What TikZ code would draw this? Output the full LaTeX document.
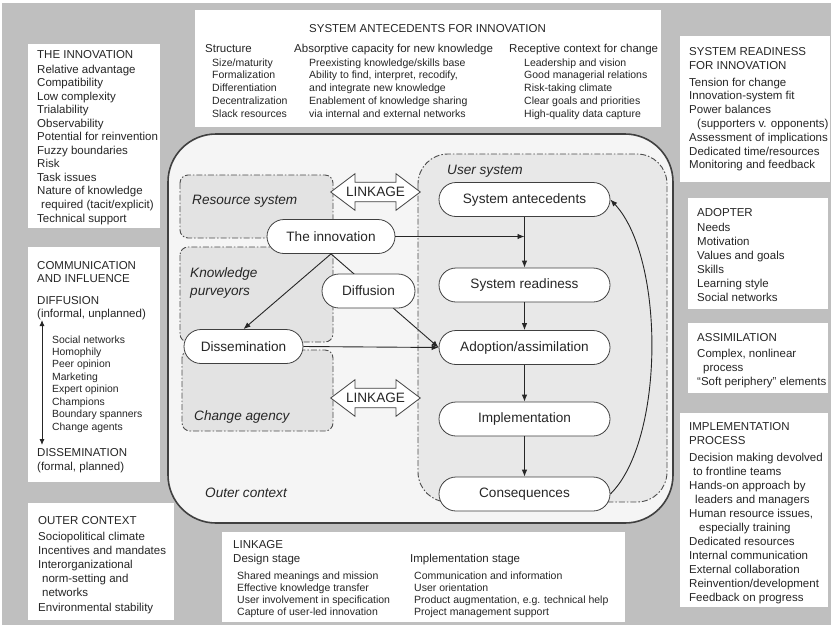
\documentclass[tikz,border=0pt]{standalone}
\usepackage{fontspec}
\setmainfont{Liberation Sans}
\usetikzlibrary{arrows.meta,shapes.misc,shapes.arrows}

\tikzset{
  panel/.style={fill=white},
  lbl/.style={anchor=base west, inner sep=0pt, text=black!85, font=\fontsize{11.5}{13}\selectfont},
  sublbl/.style={lbl, font=\fontsize{10.5}{12}\selectfont},
  zone/.style={draw=black!70, line width=0.9pt, dash pattern=on 6pt off 2pt on 1.5pt off 2pt, rounded corners=8pt},
  zonename/.style={anchor=base west, inner sep=0pt, text=black!85, font=\fontsize{13.6}{16}\selectfont\itshape},
  stage/.style={rounded rectangle, draw=black!75, fill=white, line width=0.8pt, text=black!85,
    font=\fontsize{13.6}{16}\selectfont, minimum height=34pt, inner xsep=2pt},
  link/.style={double arrow, draw=black!75, fill=white, line width=0.8pt, text=black!85,
    font=\fontsize{13.6}{16}\selectfont, double arrow head extend=8.5pt, double arrow tip angle=74,
    minimum height=85pt, inner xsep=2pt, inner ysep=4.5pt},
  arr/.style={-{Latex[length=7pt,width=5.5pt]}, line width=0.9pt, draw=black!85},
}

\begin{document}
\begin{tikzpicture}[x=1pt,y=-1pt]
  \useasboundingbox (0,0) rectangle (831,625);
  \fill[black!25] (2,3) rectangle (831,625);

  % white panels round the model
  \fill[panel] (195,10) rectangle (661,127);
  \fill[panel] (28,44) rectangle (160,228);
  \fill[panel] (28,247) rectangle (160,482);
  \fill[panel] (28,503) rectangle (174,620);
  \fill[panel] (222,532) rectangle (625,622);
  \fill[panel] (680,36) rectangle (830,182);
  \fill[panel] (688,198) rectangle (828,309);
  \fill[panel] (688,323) rectangle (828,393);
  \fill[panel] (680,413) rectangle (828,607);

  % system antecedents
  \node[lbl, anchor=base] (antetitle) at (427.5,32) {SYSTEM ANTECEDENTS FOR INNOVATION};
  \node[lbl] (structhead) at (205,52) {Structure};
  \node[lbl] (absorbhead) at (294,52) {Absorptive capacity for new knowledge};
  \node[lbl] (recepthead) at (509,52) {Receptive context for change};
  \foreach \txt [count=\i from 0] in {Size/maturity, Formalization, Differentiation,
      Decentralization, Slack resources}
    \node[sublbl] (struct\i) at (212,{66+\i*12.8}) {\txt};
  \foreach \txt [count=\i from 0] in {Preexisting knowledge/skills base,
      {Ability to find, interpret, recodify,}, and integrate new knowledge,
      Enablement of knowledge sharing, via internal and external networks}
    \node[sublbl] (absorb\i) at (309,{66+\i*12.8}) {\txt};
  \foreach \txt [count=\i from 0] in {Leadership and vision, Good managerial relations,
      Risk-taking climate, Clear goals and priorities, High-quality data capture}
    \node[sublbl] (recept\i) at (524,{66+\i*12.8}) {\txt};

  % the innovation
  \node[lbl] (inntitle) at (37,58) {THE INNOVATION};
  \foreach \txt [count=\i from 0] in {Relative advantage, Compatibility, Low complexity,
      Trialability, Observability, Potential for reinvention, Fuzzy boundaries, Risk,
      Task issues, Nature of knowledge, {\hspace{4pt}required (tacit/explicit)}, Technical support}
    \node[lbl] (inn\i) at (37,{73+\i*13.55}) {\txt};

  % communication and influence
  \node[lbl] (commtitle) at (37,269) {COMMUNICATION};
  \node[lbl] (commtitleb) at (37,282) {AND INFLUENCE};
  \node[lbl] (diffhead) at (37,304) {DIFFUSION};
  \node[lbl] (diffsub) at (37,317) {(informal, unplanned)};
  \foreach \txt [count=\i from 0] in {Social networks, Homophily, Peer opinion, Marketing,
      Expert opinion, Champions, Boundary spanners, Change agents}
    \node[sublbl, font=\fontsize{10.4}{12}\selectfont] (comm\i) at (52,{343+\i*12.43}) {\txt};
  \node[lbl] (disshead) at (37,456) {DISSEMINATION};
  \node[lbl] (disssub) at (37,470) {(formal, planned)};
  \coordinate (difftip) at (42,320);
  \coordinate (disstip) at (42,445);
  \draw[{Latex[length=6pt,width=5pt]}-{Latex[length=6pt,width=5pt]}, line width=0.9pt, draw=black!85]
    (difftip) -- (disstip);

  % outer context
  \node[lbl] (octitle) at (38,524) {OUTER CONTEXT};
  \foreach \txt [count=\i from 0] in {Sociopolitical climate, Incentives and mandates,
      Interorganizational, {\hspace{4pt}norm-setting and}, {\hspace{4pt}networks}, Environmental stability}
    \node[lbl] (oc\i) at (38,{540+\i*14.2}) {\txt};

  % linkage
  \node[lbl] (lktitle) at (233,548) {LINKAGE};
  \node[lbl] (lkdesign) at (233,562) {Design stage};
  \node[lbl] (lkimpl) at (410,562) {Implementation stage};
  \foreach \txt [count=\i from 0] in {Shared meanings and mission, Effective knowledge transfer,
      User involvement in specification, Capture of user-led innovation}
    \node[sublbl] (lkd\i) at (237,{579+\i*12}) {\txt};
  \foreach \txt [count=\i from 0] in {Communication and information, User orientation,
      {Product augmentation, e.g. technical help}, Project management support}
    \node[sublbl] (lki\i) at (414,{579+\i*12}) {\txt};

  % system readiness
  \node[lbl] (srtitle) at (689,55) {SYSTEM READINESS};
  \node[lbl] (srtitleb) at (689,69) {FOR INNOVATION};
  \foreach \txt [count=\i from 0] in {Tension for change, Innovation-system fit, Power balances,
      {\hspace{8pt}(supporters v. opponents)}, Assessment of implications,
      Dedicated time/resources, Monitoring and feedback}
    \node[lbl] (sr\i) at (689,{86+\i*13.8}) {\txt};

  % adopter
  \node[lbl] (adtitle) at (697,216) {ADOPTER};
  \foreach \txt [count=\i from 0] in {Needs, Motivation, Values and goals, Skills,
      Learning style, Social networks}
    \node[lbl] (ad\i) at (697,{231+\i*14}) {\txt};

  % assimilation
  \node[lbl] (astitle) at (697,341) {ASSIMILATION};
  \foreach \txt [count=\i from 0] in {{Complex, nonlinear}, {\hspace{6pt}process},
      {``Soft periphery'' elements}}
    \node[lbl] (as\i) at (697,{357+\i*14}) {\txt};

  % implementation process
  \node[lbl] (iptitle) at (689,430) {IMPLEMENTATION};
  \node[lbl] (iptitleb) at (689,444) {PROCESS};
  \foreach \txt [count=\i from 0] in {Decision making devolved, {\hspace{4pt}to frontline teams},
      Hands-on approach by, {\hspace{6pt}leaders and managers}, {Human resource issues,},
      {\hspace{10pt}especially training}, Dedicated resources, Internal communication,
      External collaboration, Reinvention/development, Feedback on progress}
    \node[lbl] (ip\i) at (689,{461+\i*14}) {\txt};

  % the model itself
  \draw[line width=1.6pt, draw=black!75, fill=black!4, rounded corners=48pt] (168,134) rectangle (673,523);
  \draw[zone, fill=black!9, rounded corners=30pt] (418,154) rectangle (667,502);
  \draw[zone, fill=black!11] (180,175) rectangle (333,238);
  \draw[zone, fill=black!11] (180,247) rectangle (333,342);
  \draw[zone, fill=black!11] (182,350) rectangle (333,431);

  \node[zonename] (resname) at (192,204.5) {Resource system};
  \node[zonename] (knowname) at (190,277.5) {Knowledge};
  \node[zonename] (knownameb) at (190,295.5) {purveyors};
  \node[zonename] (chgname) at (194,420.5) {Change agency};
  \node[zonename] (outername) at (205,497.5) {Outer context};
  \node[zonename] (username) at (447,174.5) {User system};

  \node[stage, minimum width=175pt] (ante) at (524.5,199.5) {System antecedents};
  \node[stage, minimum width=175pt] (ready) at (524.5,285) {System readiness};
  \node[stage, minimum width=175pt] (adopt) at (524.5,347.5) {Adoption/assimilation};
  \node[stage, minimum width=175pt] (impl) at (524.5,419) {Implementation};
  \node[stage, minimum width=175pt] (cons) at (524.5,494) {Consequences};
  \node[stage, minimum width=132pt] (innov) at (331,236.5) {The innovation};
  \node[stage, minimum width=123pt] (dissem) at (243.5,346.5) {Dissemination};

  \draw[arr] (innov.east) -- (innov.east -| ante.south);
  \draw[arr] (ante.south) -- (ready.north);
  \draw[arr] (ready.south) -- (adopt.north);
  \draw[arr] (adopt.south) -- (impl.north);
  \draw[arr] (impl.south) -- (cons.north);
  \draw[arr] (cons.east) .. controls (665,440) and (665,258) .. (ante.east);
  \draw[arr] (innov.south) -- (dissem.north);
  \draw[arr] (innov.south) -- (adopt.west);
  \draw[arr] (dissem.east) -- (adopt.west);

  \node[stage, minimum width=97pt] (diff) at (368.5,291) {Diffusion};

  \node[link] (linktop) at (375.5,192) {LINKAGE};
  \node[link] (linkbot) at (375.5,398) {LINKAGE};
\end{tikzpicture}
\end{document}
